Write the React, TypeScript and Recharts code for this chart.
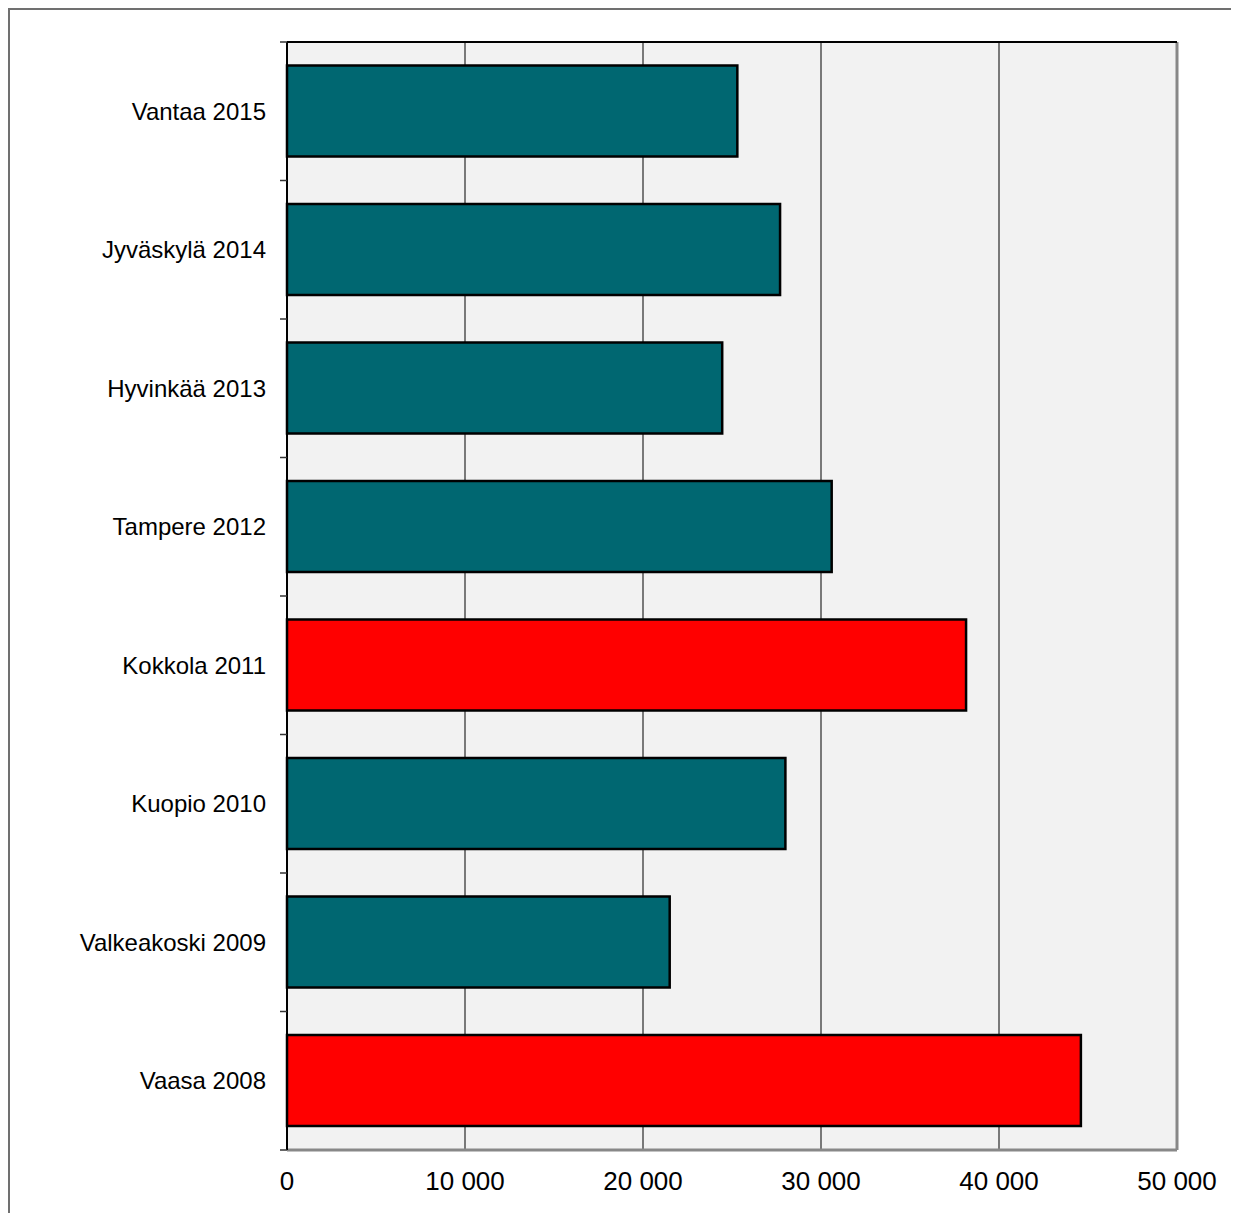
import React from 'react';
import { BarChart, Bar, XAxis, YAxis, CartesianGrid, Cell, ReferenceLine } from 'recharts';

// Kategoriat ylhäältä alas
const categories = [
  'Vantaa 2015',
  'Jyväskylä 2014',
  'Hyvinkää 2013',
  'Tampere 2012',
  'Kokkola 2011',
  'Kuopio 2010',
  'Valkeakoski 2009',
  'Vaasa 2008',
];
const values = [25300, 27700, 24450, 30600, 38150, 28000, 21500, 44600];
const highlighted = [false, false, false, false, true, false, false, true];
const xTicks = [0, 10000, 20000, 30000, 40000, 50000];
const xMax = 50000;

const data = categories.map((name, i) => ({ name, value: values[i], hot: highlighted[i] }));

const FONT = '"Liberation Sans", Arial, sans-serif';

const fmt = (v: number) => String(v).replace(/\B(?=(\d{3})+(?!\d))/g, ' ');
const blank = () => '';

const CategoryTick = (props: any) => {
  const { x, y, payload, index } = props;
  const half = payload.offset ?? 0;
  return (
    <g>
      <text x={x} y={y} textAnchor="end" dominantBaseline="central" fontSize={24} fill="#000" fontFamily={FONT}>
        {payload.value}
      </text>
      <line x1={x + 14} x2={x + 21} y1={y - half} y2={y - half} stroke="#333" strokeWidth={1.5} />
      {index === categories.length - 1 && (
        <line x1={x + 14} x2={x + 21} y1={y + half} y2={y + half} stroke="#333" strokeWidth={1.5} />
      )}
    </g>
  );
};

export default function App() {
  return (
    <div
      style={{
        width: 1229,
        height: 1203,
        borderTop: '2px solid #707070',
        borderLeft: '2px solid #707070',
        overflow: 'hidden',
        background: '#fff',
      }}
    >
      <BarChart
        width={1229}
        height={1203}
        data={data}
        layout="vertical"
        margin={{ top: 30, right: 62, bottom: 0, left: 0 }}
        barCategoryGap="17%"
      >
        <CartesianGrid xAxisId="bottom" yAxisId="cat" horizontal={false} stroke="#000" fill="#f2f2f2" />
        <XAxis
          xAxisId="bottom"
          type="number"
          orientation="bottom"
          domain={[0, xMax]}
          ticks={xTicks}
          tickFormatter={fmt}
          height={63}
          tickSize={0}
          tickMargin={22}
          tickLine={false}
          axisLine={{ stroke: '#888', strokeWidth: 3 }}
          tick={{ fontSize: 26, fill: '#000', fontFamily: FONT }}
        />
        <XAxis
          xAxisId="top"
          type="number"
          orientation="top"
          domain={[0, xMax]}
          ticks={xTicks}
          height={2}
          tickSize={8}
          tickFormatter={blank}
          tickLine={{ stroke: '#000', strokeWidth: 1.5 }}
          axisLine={{ stroke: '#000', strokeWidth: 2 }}
        />
        <YAxis
          yAxisId="cat"
          type="category"
          dataKey="name"
          width={277}
          tickSize={7}
          tickMargin={14}
          tickLine={false}
          axisLine={{ stroke: '#000', strokeWidth: 2 }}
          tick={<CategoryTick />}
          interval={0}
        />
        <ReferenceLine xAxisId="bottom" yAxisId="cat" x={xMax} stroke="#888" strokeWidth={3} />
        <Bar
          xAxisId="bottom"
          yAxisId="cat"
          dataKey="value"
          stroke="#000"
          strokeWidth={2.5}
          isAnimationActive={false}
        >
          {data.map((d) => (
            <Cell key={d.name} fill={d.hot ? '#ff0000' : '#006771'} />
          ))}
        </Bar>
      </BarChart>
    </div>
  );
}
